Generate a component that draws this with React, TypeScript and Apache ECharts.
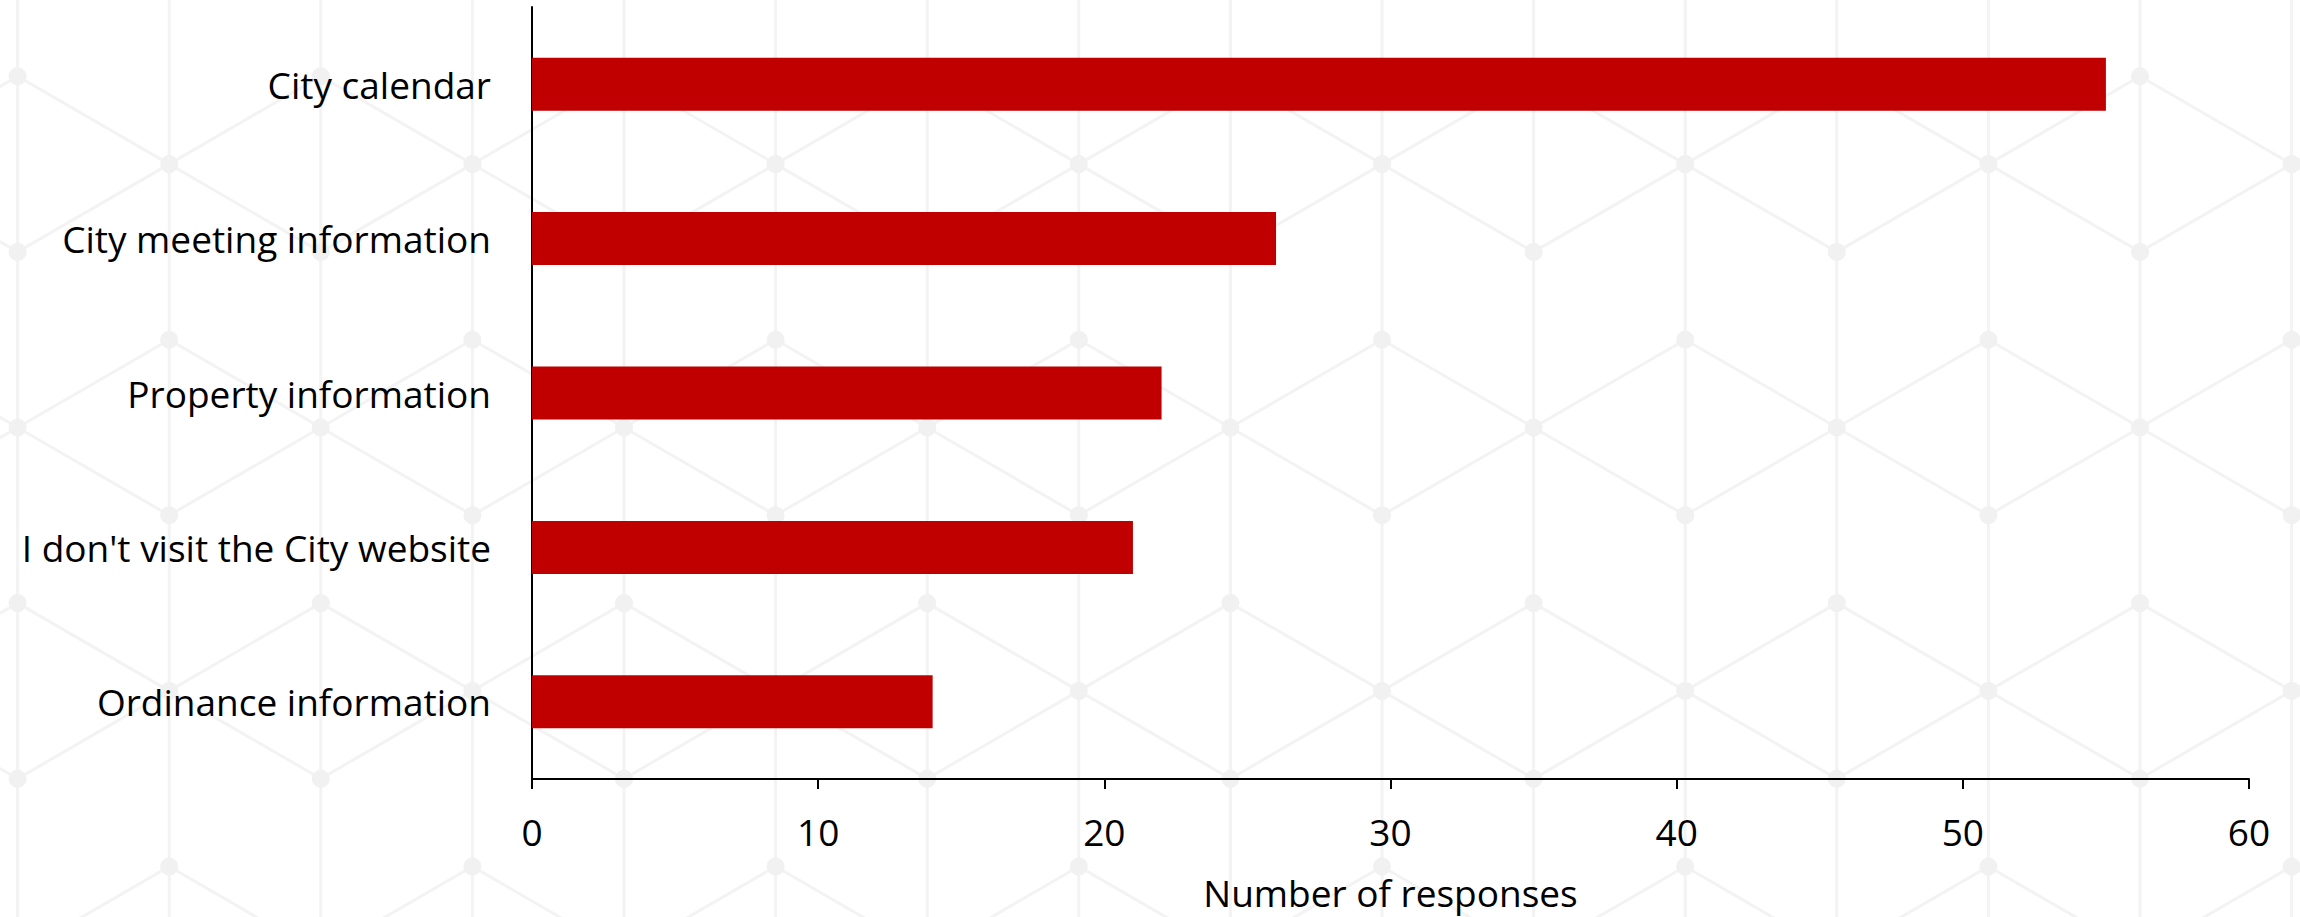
import React, { useEffect, useRef } from "react";
import * as echarts from "echarts";

const categories = [
  "City calendar",
  "City meeting information",
  "Property information",
  "I don't visit the City website",
  "Ordinance information",
];
const responses = [55, 26, 22, 21, 14];
const xTicksMin = 0;
const xTicksMax = 60;
const xTickStep = 10;
const xAxisTitle = "Number of responses";

const W = 2300;
const H = 917;

function buildBackground() {
  const els: any[] = [];
  const h = 87.8;
  const colW = 151.6;
  const x0 = 17.6;
  const y0 = 76.3;
  const lineStyle = { stroke: "#f3f3f3", lineWidth: 3 };
  const X = (c: number) => x0 + c * colW;
  const Y = (l: number) => y0 + l * h;
  for (let c = -1; c <= 16; c++) {
    els.push({ type: "line", silent: true, z: -100, shape: { x1: X(c), y1: 0, x2: X(c), y2: H }, style: lineStyle });
  }
  for (let c = -1; c <= 16; c++) {
    for (let l = -3; l <= 11; l++) {
      if ((((c + l) % 2) + 2) % 2 !== 0) continue;
      const mod = ((l % 3) + 3) % 3;
      if (mod === 0 || mod === 1) {
        for (const dc of [-1, 1]) {
          els.push({
            type: "line", silent: true, z: -100,
            shape: { x1: X(c), y1: Y(l), x2: X(c + dc), y2: Y(l + 1) },
            style: lineStyle,
          });
        }
      }
    }
  }
  for (let c = -1; c <= 16; c++) {
    for (let l = -3; l <= 11; l++) {
      if ((((c + l) % 2) + 2) % 2 !== 0) continue;
      els.push({ type: "circle", silent: true, z: -99, shape: { cx: X(c), cy: Y(l), r: 9 }, style: { fill: "#f1f1f1" } });
    }
  }
  return els;
}

export default function App() {
  const ref = useRef<HTMLDivElement>(null);
  useEffect(() => {
    document.body.style.margin = "0";
    const chart = echarts.init(ref.current!, undefined, { renderer: "svg" });
    const font = "'Open Sans', sans-serif";
    chart.setOption({
      animation: false,
      backgroundColor: "#ffffff",
      graphic: { elements: buildBackground() },
      grid: { left: 532, right: 51, top: 7, bottom: 138, containLabel: false },
      xAxis: {
        type: "value",
        min: xTicksMin,
        max: xTicksMax,
        interval: xTickStep,
        name: xAxisTitle,
        nameLocation: "middle",
        nameGap: 93,
        nameTextStyle: { color: "#000", fontSize: 37, fontFamily: font, lineHeight: 40 },
        axisLine: { show: true, lineStyle: { color: "#000", width: 2 } },
        axisTick: { show: true, length: 10, lineStyle: { color: "#000", width: 2 } },
        splitLine: { show: false },
        axisLabel: { color: "#000", fontSize: 37, fontFamily: font, margin: 34 },
      },
      yAxis: {
        type: "category",
        data: categories,
        inverse: true,
        axisLine: { show: true, lineStyle: { color: "#000", width: 2 } },
        axisTick: { show: false },
        splitLine: { show: false },
        axisLabel: { color: "#000", fontSize: 37, fontFamily: font, margin: 41 },
      },
      series: [
        {
          type: "bar",
          data: responses,
          barCategoryGap: "65.7%",
          itemStyle: { color: "#C00000" },
        },
      ],
    });
    return () => chart.dispose();
  }, []);
  return <div ref={ref} style={{ position: "absolute", left: 0, top: 0, width: W, height: H }} />;
}
